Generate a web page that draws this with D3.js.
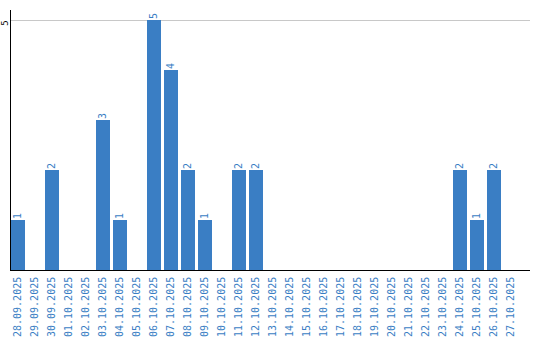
<!DOCTYPE html>
<html><head><meta charset="utf-8">
<script src="https://cdn.jsdelivr.net/npm/d3@7"></script>
<style>body{margin:0;background:#fff}svg{display:block}</style>
</head><body>
<svg id="c" width="540" height="340"></svg>
<script>
const dates = ["28.09.2025","29.09.2025","30.09.2025","01.10.2025","02.10.2025","03.10.2025","04.10.2025","05.10.2025","06.10.2025","07.10.2025","08.10.2025","09.10.2025","10.10.2025","11.10.2025","12.10.2025","13.10.2025","14.10.2025","15.10.2025","16.10.2025","17.10.2025","18.10.2025","19.10.2025","20.10.2025","21.10.2025","22.10.2025","23.10.2025","24.10.2025","25.10.2025","26.10.2025","27.10.2025"];
const values = [1,0,2,0,0,3,1,0,5,4,2,1,0,2,2,0,0,0,0,0,0,0,0,0,0,0,2,1,2,0];
const yTicks = [5];

const svg = d3.select("#c");
const blue = "#3a7ec4";
const x = d3.scaleBand().domain(dates).range([9.2, 519.2]).paddingInner(3/17).paddingOuter(3/34);
const y = d3.scaleLinear().domain([0,5]).range([270,20]);

svg.selectAll("line.grid").data(yTicks).enter().append("line")
  .attr("x1",11).attr("x2",530).attr("y1",d=>y(d)+0.5).attr("y2",d=>y(d)+0.5)
  .attr("stroke","#c8c8c8").attr("stroke-width",1).attr("shape-rendering","crispEdges");

svg.selectAll("rect.bar").data(values.map((v,i)=>({d:dates[i],v}))).enter()
  .filter(o=>o.v>0).append("rect")
  .attr("x",o=>x(o.d)).attr("width",x.bandwidth())
  .attr("y",o=>y(o.v)).attr("height",o=>y(0)-y(o.v))
  .attr("fill",blue).attr("shape-rendering","crispEdges");

svg.selectAll("text.val").data(values.map((v,i)=>({d:dates[i],v}))).enter()
  .filter(o=>o.v>0).append("text")
  .attr("transform",o=>`translate(${x(o.d)+x.bandwidth()/2+3.5},${y(o.v)-1}) rotate(-90)`)
  .attr("font-family","DejaVu Sans Mono, monospace").attr("font-size",10)
  .attr("fill",blue).text(o=>o.v);

svg.append("line").attr("x1",10.5).attr("x2",10.5).attr("y1",10).attr("y2",270)
  .attr("stroke","#000").attr("shape-rendering","crispEdges");
svg.append("line").attr("x1",10).attr("x2",530).attr("y1",270.5).attr("y2",270.5)
  .attr("stroke","#000").attr("stroke-width",1).attr("shape-rendering","crispEdges");

svg.selectAll("text.yt").data(yTicks).enter().append("text")
  .attr("transform",d=>`translate(7.5,${y(d)+3}) rotate(-90)`)
  .attr("text-anchor","middle")
  .attr("font-family","DejaVu Sans Mono, monospace").attr("font-size",9)
  .attr("fill","#000").text(d=>d);

svg.selectAll("text.xl").data(dates).enter().append("text")
  .attr("transform",d=>`translate(${x(d)+x.bandwidth()/2+3.5},337) rotate(-90)`)
  .attr("font-family","DejaVu Sans Mono, monospace").attr("font-size",10)
  .attr("fill",blue).text(d=>d);
</script>
</body></html>
